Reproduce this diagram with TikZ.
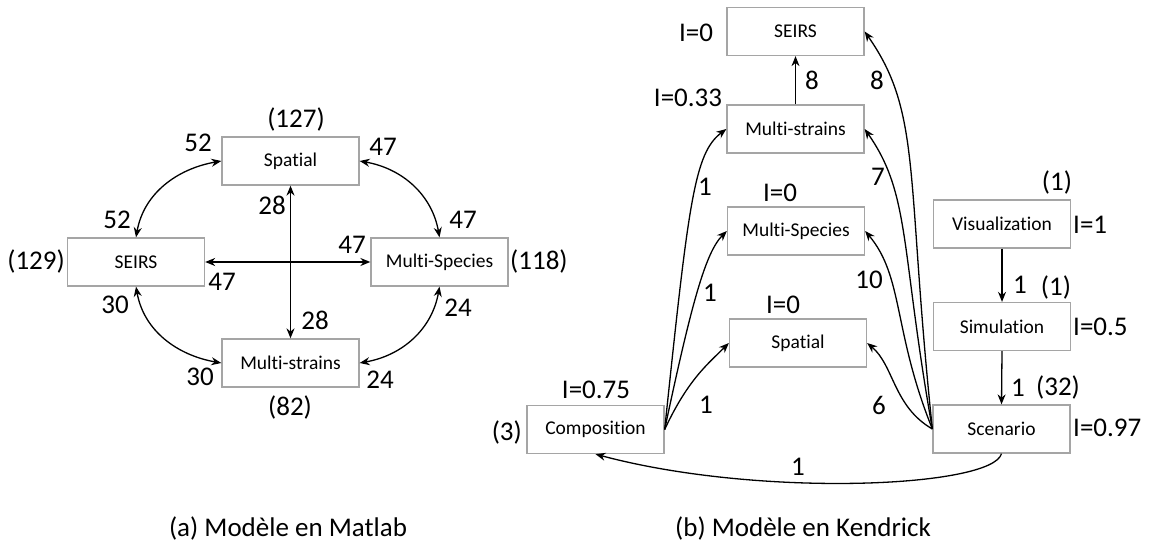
\documentclass[tikz,border=0pt]{standalone}
\usepackage{fontspec}
\setmainfont{Carlito}[Ligatures={NoCommon}]
\usetikzlibrary{arrows.meta}
\definecolor{boxgray}{RGB}{165,165,165}
\begin{document}
\begin{tikzpicture}[x=1pt,y=1pt,
  box/.style={draw=boxgray, line width=1.3pt, minimum width=137pt, minimum height=48pt, inner sep=0pt, font=\fontsize{19.5}{22}\selectfont},
  lbl/.style={inner sep=0pt, font=\fontsize{27}{30}\selectfont},
  captxt/.style={inner sep=0pt, font=\fontsize{27}{30}\selectfont},
  conn/.style={line width=1.3pt, -{Stealth[length=10pt,width=8pt]}},
  bconn/.style={line width=1.3pt, {Stealth[length=10pt,width=8pt]}-{Stealth[length=10pt,width=8pt]}}]
\useasboundingbox (0,0) rectangle (1155,548);
% ---------- left diagram ----------
\node[box] (lsp) at (290.5,387) {Spatial};
\node[box] (lseirs) at (136,286) {SEIRS};
\node[box] (lmsp) at (439.5,286) {Multi-Species};
\node[box] (lmst) at (290.5,185) {Multi-strains};
\draw[bconn] (lseirs.north) to[out=80,in=190] (lsp.west);
\draw[bconn] (lsp.east) to[out=-10,in=100] (lmsp.north);
\draw[bconn] (lseirs.south) to[out=-80,in=170] (lmst.west);
\draw[bconn] (lmst.east) to[out=10,in=-100] (lmsp.south);
\draw[bconn] (lseirs.east) -- (lmsp.west);
\draw[bconn] (lsp.south) -- (lmst.north);
\node[lbl] (c127) at (296,428) {(127)};
\node[lbl,anchor=east] (c129) at (65,286) {(129)};
\node[lbl,anchor=west] (c118) at (510,286) {(118)};
\node[lbl] (c82) at (290,140) {(82)};
\node[lbl] (a1) at (198,405) {52};
\node[lbl] (a2) at (117,328) {52};
\node[lbl] (a3) at (383,401) {47};
\node[lbl] (a4) at (463,328) {47};
\node[lbl] (a5) at (272,343) {28};
\node[lbl] (a6) at (352,303) {47};
\node[lbl] (a7) at (222,266) {47};
\node[lbl] (a8) at (115,243) {30};
\node[lbl] (a9) at (315,228) {28};
\node[lbl] (a10) at (458,240) {24};
\node[lbl] (a11) at (200,171) {30};
\node[lbl] (a12) at (380,168) {24};
\node[captxt] (capa) at (288,20) {(a) Modèle en Matlab};
% ---------- right diagram ----------
\node[box] (rseirs) at (795.5,516.5) {SEIRS};
\node[box] (rmst) at (795.5,419) {Multi-strains};
\node[box] (rmsp) at (796,317) {Multi-Species};
\node[box] (rsp) at (798,205) {Spatial};
\node[box] (comp) at (595.5,118.5) {Composition};
\node[box] (scen) at (1001.5,119) {Scenario};
\node[box] (sim) at (1002,221.5) {Simulation};
\node[box] (vis) at (1002,324) {Visualization};
\draw[conn] (rmst.north) -- (rseirs.south);
\draw[conn] (vis.south) -- (sim.north);
\draw[conn] (sim.south) -- (scen.north);
\draw[conn] (comp.east) .. controls +(84:230) and +(217:40) .. (rmst.west);
\draw[conn] (comp.east) .. controls +(78:130) and +(225:30) .. (rmsp.west);
\draw[conn] (comp.east) .. controls +(65:55) and +(225:30) .. (rsp.west);
\draw[conn] (scen.west) .. controls +(150:45) and +(-40:35) .. (rsp.east);
\draw[conn] (scen.west) .. controls +(112:105) and +(-50:60) .. (rmsp.east);
\draw[conn] (scen.west) .. controls +(100:185) and +(-55:80) .. (rmst.east);
\draw[conn] (scen.west) .. controls +(96:255) and +(-55:100) .. (rseirs.east);
\draw[conn] (scen.south) .. controls +(255:35) and +(-15:170) .. (comp.south);
\node[lbl] (b1) at (696,515) {I=0};
\node[lbl] (b2) at (688,450) {I=0.33};
\node[lbl] (b3) at (812,468) {8};
\node[lbl] (b4) at (877,468) {8};
\node[lbl] (b5) at (705,361) {1};
\node[lbl] (b6) at (878,371) {7};
\node[lbl] (b7) at (780,355) {I=0};
\node[lbl] (b8) at (710,255) {1};
\node[lbl] (b9) at (869,268) {10};
\node[lbl] (b10) at (783,243) {I=0};
\node[lbl] (b11) at (596,158) {I=0.75};
\node[lbl] (b12) at (706,143) {1};
\node[lbl] (b13) at (879,143) {6};
\node[lbl,anchor=east] (b14) at (522,116) {(3)};
\node[lbl] (b15) at (798,81) {1};
\node[lbl] (b16) at (1057,365) {(1)};
\node[lbl,anchor=west] (b17) at (1073,323) {I=1};
\node[lbl] (b18) at (1020,263) {1};
\node[lbl] (b19) at (1056,260) {(1)};
\node[lbl,anchor=west] (b20) at (1073,221) {I=0.5};
\node[lbl] (b21) at (1018,160) {1};
\node[lbl] (b22) at (1058,160) {(32)};
\node[lbl,anchor=west] (b23) at (1073,120) {I=0.97};
\node[captxt] (capb) at (803,20) {(b) Modèle en Kendrick};
\end{tikzpicture}
\end{document}
